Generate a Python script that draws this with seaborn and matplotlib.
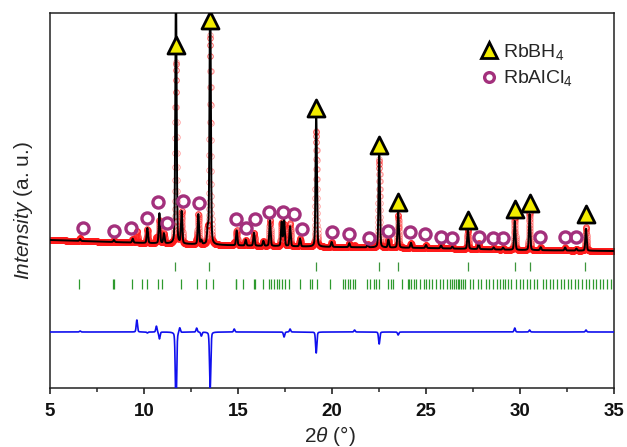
import numpy as np
import pandas as pd
import matplotlib
matplotlib.use("Agg")
import matplotlib.pyplot as plt
import seaborn as sns
from matplotlib.lines import Line2D

# ---------------- data ----------------
# background level of the pattern (arbitrary intensity units)
bg_2theta = [5, 10, 15, 20, 25, 30, 35]
bg_level = [148, 145, 142.5, 141, 140, 138, 137]

# RbBH4 reflections: position, calculated height, observed height, marker level
bh_pos = [11.70, 13.52, 19.16, 22.51, 23.52, 27.23, 29.72, 30.51, 33.51]
bh_calc = [262, 266, 137, 100, 36, 20, 29, 36, 22]
bh_obs = [182, 209, 116, 88, 33, 20, 33, 38, 24]
bh_mark_y = [343, 368, 280, 243, 186, 168, 179, 185, 174]

# RbAlCl4 (and unindexed) profile peaks: position, calculated height, observed height
al_pos = [6.60, 8.40, 9.40, 9.62, 10.18, 10.66, 10.82, 11.06, 11.90, 12.00,
          12.80, 12.89, 13.05, 13.39, 14.80, 14.93, 15.41, 15.85, 16.35, 16.70,
          17.32, 17.45, 17.77, 18.30, 19.98, 20.92, 21.20, 21.90, 23.00, 24.20,
          25.00, 25.80, 26.40, 27.80, 28.60, 29.10, 31.10, 32.40, 33.00]
al_calc = [2, 2, 4, 0, 15, 0, 30, 10, 0, 32,
           0, 30, 4, 15, 0, 15, 6, 13, 5, 26,
           24, 27, 20, 8, 5, 4, 0, 3, 8, 5,
           3, 3, 2, 6, 2, 2, 3, 3, 2]
al_obs = [3, 2, 4, 12, 14, 6, 23, 10, 5, 32,
          4, 30, 0, 15, 3, 15, 6, 13, 5, 26,
          24, 22, 23, 8, 5, 4, 2, 3, 8, 5,
          3, 3, 2, 6, 2, 2, 3, 3, 2]

# RbAlCl4 phase markers (open circles)
al_mark_pos = [6.77, 8.42, 9.29, 10.18, 10.76, 11.22, 12.09, 12.93, 14.89, 15.41,
               15.92, 16.63, 17.38, 17.96, 18.39, 20.00, 20.90, 21.97, 23.00, 24.15,
               24.95, 25.80, 26.40, 27.82, 28.58, 29.11, 31.06, 32.39, 32.98]
al_mark_y = [159.7, 157, 159.7, 169.7, 186.3, 165, 187, 185, 168.7, 160.3,
             169, 176.5, 176, 174, 158.7, 156.3, 154, 150.5, 157, 156,
             154, 151, 150.5, 151.3, 149.7, 149.7, 150.7, 150.7, 150.7]

# Bragg reflection tick positions
bh_ticks = [11.65, 13.45, 19.15, 22.48, 23.50, 27.23, 29.73, 30.55, 33.48]
al_ticks = [6.55, 8.33, 8.43, 9.34, 9.87, 10.15, 10.76, 10.98, 11.95, 12.84,
            13.28, 13.69, 14.89, 14.92, 15.25, 15.83, 15.91, 16.31, 16.67, 16.78,
            16.91, 17.05, 17.20, 17.35, 17.52, 17.73, 18.30, 18.81, 18.96, 19.19,
            19.91, 20.57, 20.70, 20.85, 20.98, 21.12, 21.23, 21.84, 22.03, 22.22,
            22.35, 22.50, 22.97, 23.16, 23.26, 23.73, 24.02, 24.11, 24.20, 24.34,
            24.49, 24.68, 24.87, 25.00, 25.15, 25.34, 25.53, 25.72, 25.91, 26.14,
            26.25, 26.40, 26.50, 26.59, 26.69, 26.78, 26.88, 26.97, 27.06, 27.33,
            27.52, 27.77, 27.95, 28.18, 28.37, 28.56, 28.75, 28.94, 29.09, 29.22,
            29.36, 29.51, 29.79, 29.98, 30.17, 30.36, 30.55, 30.74, 30.93, 31.21,
            31.40, 31.59, 31.78, 31.97, 32.16, 32.35, 32.54, 32.73, 32.92, 33.11,
            33.30, 33.49, 33.68, 33.87, 34.06, 34.25, 34.44, 34.63, 34.82]

diff_offset = 56
bh_tick_rows = (117, 126)
al_tick_rows = (99, 109)

# ---------------- profile construction ----------------
grid = np.round(np.arange(5.0, 35.0001, 0.005), 3)
fwhm = 0.08
sig = fwhm / 2.3548
gam = fwhm / 2
eta = 0.25


def profile(pos, heights):
    out = np.zeros_like(grid)
    for p, a in zip(pos, heights):
        g = np.exp(-0.5 * ((grid - p) / sig) ** 2)
        l = 1.0 / (1.0 + ((grid - p) / gam) ** 2)
        out += a * ((1 - eta) * g + eta * l)
    return out


all_pos = bh_pos + al_pos
bg = np.interp(grid, bg_2theta, bg_level)
calc = bg + profile(all_pos, bh_calc + al_calc)
obs = bg + profile(all_pos, bh_obs + al_obs)
diff = obs - calc + diff_offset

df = pd.DataFrame({"tt": grid, "obs": obs, "calc": calc, "diff": diff})

# ---------------- plot ----------------
sns.set_theme(style="ticks")
plt.rcParams["font.family"] = ["Liberation Sans", "DejaVu Sans"]
plt.rcParams.update({
    "mathtext.fontset": "custom",
    "mathtext.rm": "Liberation Sans",
    "mathtext.it": "Liberation Sans:italic",
    "mathtext.bf": "Liberation Sans:bold",
})

fig = plt.figure(figsize=(6.27, 4.47), dpi=100)
ax = fig.add_axes([50 / 627, 59 / 447, 564 / 627, 375 / 447])

sns.lineplot(data=df, x="tt", y="obs", ax=ax, estimator=None, linestyle="",
             marker="o", markersize=4.0, markerfacecolor="none",
             markeredgecolor="#ff1a1a", markeredgewidth=0.6, alpha=0.45, zorder=2)
sns.lineplot(data=df, x="tt", y="calc", ax=ax, estimator=None, color="black",
             linewidth=1.4, zorder=3)
sns.lineplot(data=df, x="tt", y="diff", ax=ax, estimator=None, color="#1010ee",
             linewidth=1.2, zorder=3)

ax.vlines(bh_ticks, *bh_tick_rows, color="#3c963c", linewidth=0.9, zorder=3)
ax.vlines(al_ticks, *al_tick_rows, color="#2e9a2e", linewidth=0.9, zorder=3)

sns.scatterplot(x=bh_pos, y=bh_mark_y, ax=ax, marker="^", s=150,
                color="#f2ec00", edgecolor="black", linewidth=2.0, zorder=5)
ax.plot(al_mark_pos, al_mark_y, linestyle="", marker="o", markersize=8,
        markerfacecolor="none", markeredgecolor="#a3307c", markeredgewidth=2.4,
        zorder=5)

ax.set_xlim(5, 35)
ax.set_ylim(0, 375)
ax.set_yticks([])
ax.set_xticks([5, 10, 15, 20, 25, 30, 35])
ax.set_xticks([7.5, 12.5, 17.5, 22.5, 27.5, 32.5], minor=True)
ax.tick_params(axis="x", which="major", direction="out", length=4.5, width=1.1,
               pad=6, labelsize=13.5, colors="#111111")
ax.tick_params(axis="x", which="minor", direction="out", length=3.2, width=1.1)
for lab in ax.get_xticklabels():
    lab.set_fontweight("bold")
for s in ax.spines.values():
    s.set_linewidth(1.1)
    s.set_color("#222222")
    s.set_visible(True)

ax.set_xlabel(r"$\mathit{2\theta}$ (°)", fontsize=15)
ax.set_ylabel(r"$\mathit{Intensity}$ (a. u.)", fontsize=15)
ax.xaxis.set_label_coords(0.496, -0.095)
ax.yaxis.set_label_coords(-0.026, 0.472)

handles = [
    Line2D([], [], linestyle="", marker="^", markersize=12, markerfacecolor="#f2ec00",
           markeredgecolor="black", markeredgewidth=2.0),
    Line2D([], [], linestyle="", marker="o", markersize=7, markerfacecolor="none",
           markeredgecolor="#a3307c", markeredgewidth=2.4),
]
ax.legend(handles, [r"RbBH$_4$", r"RbAlCl$_4$"], loc="upper left",
          bbox_to_anchor=(0.735, 0.965), frameon=False, fontsize=14,
          handlelength=0.9, handletextpad=0.3, labelspacing=0.35, borderpad=0.3)

fig.savefig("out.png", dpi=100)
